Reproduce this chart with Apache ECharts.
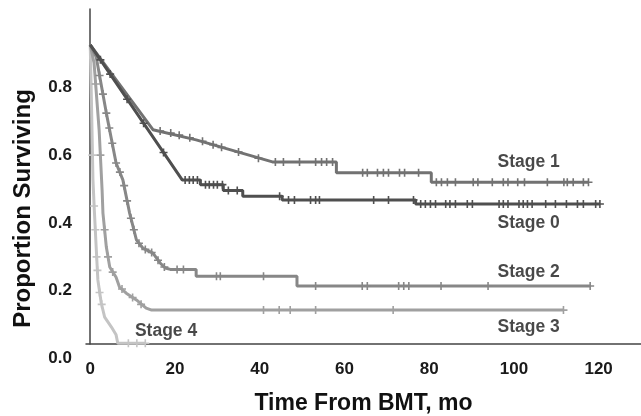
<!DOCTYPE html>
<html>
<head>
<meta charset="utf-8">
<script src="https://cdn.jsdelivr.net/npm/echarts@6/dist/echarts.min.js"></script>
<style>
  html, body { margin: 0; padding: 0; background: #fff; }
  #chart-wrapper { width: 641px; height: 416px; }
</style>
</head>
<body>
<div id="chart-wrapper"></div>
<script>
'use strict'

var xTicks = [0, 20, 40, 60, 80, 100, 120];
var yTicks = [0.0, 0.2, 0.4, 0.6, 0.8];
var stageNames = ['Stage 0', 'Stage 1', 'Stage 2', 'Stage 3', 'Stage 4'];

// survival curves, [months, proportion]
var stage0Curve = [[0, 0.925], [21.7, 0.527], [26, 0.527], [26, 0.513], [31.4, 0.513], [31.4, 0.496],
    [36, 0.496], [36, 0.479], [45.3, 0.479], [45.3, 0.468], [76.8, 0.468], [76.8, 0.456], [120.3, 0.456]];
var stage1Curve = [[0, 0.925], [14.8, 0.675], [25, 0.645], [35, 0.609], [43, 0.58], [58.1, 0.58],
    [58.1, 0.548], [80.5, 0.548], [80.5, 0.52], [117.6, 0.52]];
var stage2Curve = [[0, 0.925], [1.4, 0.89], [3.8, 0.724], [6.1, 0.577], [7.7, 0.527], [9.3, 0.429],
    [10.9, 0.35], [12.4, 0.326], [14.8, 0.311], [16.5, 0.282], [17.7, 0.267], [18.9, 0.263], [25, 0.263],
    [25, 0.243], [48.8, 0.243], [48.8, 0.214], [118, 0.214]];
var stage3Curve = [[0, 0.925], [0.9, 0.872], [2.1, 0.674], [2.8, 0.497], [3.0, 0.429], [3.8, 0.329],
    [4.6, 0.27], [6.1, 0.24], [6.9, 0.211], [8.5, 0.193], [10.9, 0.173], [13.2, 0.149], [14.5, 0.143],
    [111.7, 0.143]];
var stage4Curve = [[0, 0.925], [0.3, 0.75], [0.64, 0.527], [1.0, 0.429], [1.4, 0.329], [1.8, 0.232],
    [2.6, 0.164], [3.4, 0.122], [5.0, 0.093], [6.1, 0.07], [6.5, 0.045], [13, 0.045]];

// censored observations
var stage0Censor = [[2.4, 0.881], [4.7, 0.839], [8.7, 0.765], [12.6, 0.694], [17.3, 0.608],
    [22.4, 0.527], [23.4, 0.527], [24.3, 0.527], [25.3, 0.527],
    [27.2, 0.513], [28.1, 0.513], [29.1, 0.513], [30, 0.513], [31.2, 0.513],
    [32.6, 0.496], [34.7, 0.496], [44.7, 0.479],
    [46.8, 0.468], [48.2, 0.468], [52, 0.468], [53.2, 0.468], [54.1, 0.468], [66.9, 0.468], [70.4, 0.468], [76.3, 0.468],
    [78, 0.456], [79.1, 0.456], [80.3, 0.456], [81.5, 0.456], [83.9, 0.456], [84.9, 0.456], [86.2, 0.456],
    [89, 0.456], [90.2, 0.456], [96.5, 0.456], [97.5, 0.456], [98.6, 0.456], [101.2, 0.456], [102.2, 0.456],
    [103.2, 0.456], [104.3, 0.456], [107.5, 0.456], [109.8, 0.456], [112.4, 0.456], [115, 0.456],
    [116.4, 0.456], [119.3, 0.456], [120.3, 0.456]];
var stage1Censor = [[16.5, 0.671], [19, 0.665], [21, 0.659], [23.5, 0.651], [26.5, 0.641], [29, 0.631],
    [31, 0.623], [35, 0.609], [39.7, 0.591],
    [43.7, 0.58], [45.6, 0.58], [49.4, 0.58], [53.2, 0.58], [54.6, 0.58], [55.8, 0.58], [57.2, 0.58],
    [64.3, 0.548], [65.4, 0.548], [67.8, 0.548], [69.2, 0.548], [70.4, 0.548], [73, 0.548], [74.2, 0.548], [77.5, 0.548],
    [81.7, 0.52], [82.9, 0.52], [84.3, 0.52], [86.2, 0.52], [90.4, 0.52], [91.5, 0.52], [94.9, 0.52],
    [97.5, 0.52], [98.6, 0.52], [100.9, 0.52], [102.5, 0.52], [107.9, 0.52], [111.8, 0.52], [112.6, 0.52],
    [114, 0.52], [116.4, 0.52], [117.6, 0.52]];
var stage2Censor = [[2.2, 0.835], [3.0, 0.78], [3.8, 0.724], [4.5, 0.68], [5.2, 0.635], [6.1, 0.577],
    [7, 0.55], [8, 0.51], [8.7, 0.465], [9.6, 0.414], [10.3, 0.38], [11.5, 0.34], [13, 0.322], [14.5, 0.313],
    [16, 0.29], [17.5, 0.27], [20.5, 0.263], [22, 0.263],
    [29.8, 0.243], [30.7, 0.243], [40.9, 0.243],
    [53.2, 0.214], [64.2, 0.214], [65.4, 0.214], [72.8, 0.214], [74, 0.214], [75.2, 0.214], [82.8, 0.214],
    [93.9, 0.214], [118, 0.214]];
var stage3Censor = [[1.3, 0.81], [2.4, 0.6], [3.4, 0.38], [4.2, 0.30], [5.3, 0.255], [7.5, 0.205],
    [10, 0.18], [12, 0.16], [40.9, 0.143], [44.6, 0.143], [47.2, 0.143], [53.2, 0.143], [71.5, 0.143],
    [111.7, 0.143]];
var stage4Censor = [[0.5, 0.6], [0.9, 0.45], [1.2, 0.38], [1.5, 0.30], [1.7, 0.26], [2.2, 0.195],
    [2.7, 0.16], [9, 0.045], [11, 0.045], [13, 0.045]];

var curves = [stage0Curve, stage1Curve, stage2Curve, stage3Curve, stage4Curve];
var censors = [stage0Censor, stage1Censor, stage2Censor, stage3Censor, stage4Censor];
var colors = ['#4f4f4f', '#727272', '#878787', '#a0a0a0', '#c4c4c4'];
// where each stage name sits, in data units
var labelAt = [[103.5, 0.399], [103.5, 0.578], [103.5, 0.256], [103.5, 0.094], [17.9, 0.08]];

var plusSymbol = 'path://M4,0H6V4H10V6H6V10H4V6H0V4H4Z';
var fontFamily = '"Liberation Sans", Arial, sans-serif';

var series = [];
for (var i = curves.length - 1; i >= 0; i--) {
    series.push({
        name: stageNames[i],
        type: 'line',
        data: curves[i],
        showSymbol: false,
        silent: true,
        lineStyle: { color: colors[i], width: 3 },
        itemStyle: { color: colors[i] },
        z: 2 + (4 - i) * 2
    });
    series.push({
        name: stageNames[i] + ' censored',
        type: 'scatter',
        data: censors[i],
        symbol: plusSymbol,
        symbolSize: 8,
        silent: true,
        itemStyle: { color: colors[i], opacity: 1 },
        z: 3 + (4 - i) * 2
    });
}
series.push({
    name: 'labels',
    type: 'scatter',
    data: labelAt.map(function (p, k) { return { value: p, name: stageNames[k] }; }),
    symbolSize: 0,
    silent: true,
    z: 20,
    label: {
        show: true,
        position: 'inside',
        formatter: '{b}',
        color: '#1a1a1a',
        fontFamily: fontFamily,
        fontWeight: 'bold',
        fontSize: 17.5
    }
});

var myChart = echarts.init(document.getElementById('chart-wrapper'));
var option = {
    backgroundColor: '#fff',
    animation: false,
    grid: { left: 86, right: 0, top: 9, bottom: 72, outerBoundsMode: 'none', containLabel: false },
    xAxis: {
        type: 'value',
        min: -1,
        max: 130,
        name: 'Time From BMT, mo',
        nameLocation: 'middle',
        nameGap: 48,
        nameTextStyle: { color: '#111', fontFamily: fontFamily, fontWeight: 'bold', fontSize: 23 },
        axisLine: { lineStyle: { color: '#444', width: 1.5 } },
        axisTick: { show: false },
        splitLine: { show: false },
        axisLabel: {
            customValues: xTicks,
            margin: 17,
            color: '#1a1a1a',
            fontFamily: fontFamily,
            fontWeight: 'bold',
            fontSize: 17
        }
    },
    yAxis: {
        type: 'value',
        min: 0.043,
        max: 1.031,
        name: 'Proportion Surviving',
        nameLocation: 'middle',
        nameGap: 51,
        nameTextStyle: {
            color: '#111', fontFamily: fontFamily, fontWeight: 'bold', fontSize: 24,
            padding: [0, 64, 0, 0]
        },
        axisLine: { show: true, lineStyle: { color: '#444', width: 1.5 } },
        axisTick: { show: false },
        splitLine: { show: false },
        axisLabel: {
            customValues: [0.043].concat(yTicks.slice(1)),
            margin: 14,
            color: '#1a1a1a',
            fontFamily: fontFamily,
            fontWeight: 'bold',
            fontSize: 17,
            formatter: function (v) {
                if (v < 0.1) {
                    return '{low|' + yTicks[0].toFixed(1) + '}';
                }
                return v.toFixed(1);
            },
            rich: {
                low: { fontFamily: fontFamily, fontWeight: 'bold', fontSize: 17, color: '#1a1a1a', padding: [29, 0, 0, 0] }
            }
        }
    },
    series: series
};
myChart.setOption(option);
</script>
</body>
</html>
